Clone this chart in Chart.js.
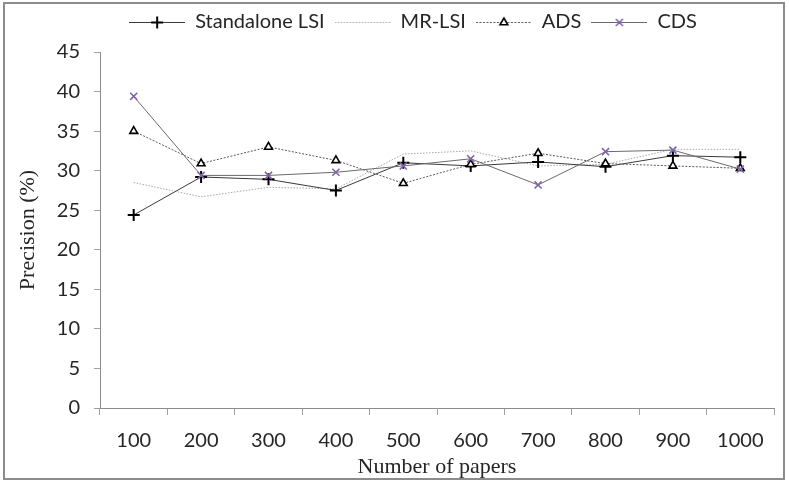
<!DOCTYPE html>
<html>
<head>
<meta charset="utf-8">
<script src="https://cdn.jsdelivr.net/npm/chart.js@4.4.1/dist/chart.umd.min.js"></script>
<style>
    html, body { margin: 0; padding: 0; background: #fff; }
    #box { width: 789px; height: 483px; }
</style>
</head>
<body>
<div id="box"><canvas id="precisao"></canvas></div>
<script>
const papers = ['100', '200', '300', '400', '500', '600', '700', '800', '900', '1000'];
const standalone_lsi = [24.4, 29.2, 28.9, 27.5, 31.0, 30.6, 31.1, 30.5, 31.9, 31.7];
const mr_lsi = [28.5, 26.7, 27.9, 27.7, 32.1, 32.5, 30.6, 30.8, 32.7, 32.7];
const ads = [35.0, 30.9, 33.0, 31.3, 28.4, 30.8, 32.2, 30.9, 30.6, 30.3];
const cds = [39.4, 29.4, 29.4, 29.8, 30.6, 31.5, 28.2, 32.4, 32.6, 30.2];
const y_min = 0, y_max = 45, y_step = 5;

const sans = 'Lato, "Open Sans", sans-serif';
const serif = '"Liberation Serif", "Times New Roman", serif';

// small picture for the legend: line sample with the marker in the middle
function amostra(ds){
    var c = document.createElement('canvas');
    c.width = 56;
    c.height = 14;
    var g = c.getContext('2d');
    g.strokeStyle = ds.borderColor;
    g.lineWidth = ds.borderWidth;
    g.setLineDash(ds.borderDash || []);
    g.beginPath();
    g.moveTo(0, 7.5);
    g.lineTo(56, 7.5);
    g.stroke();
    g.setLineDash([]);
    if (ds.pointRadius > 0) {
        g.fillStyle = ds.pointBackgroundColor;
        g.strokeStyle = ds.pointBorderColor;
        g.lineWidth = ds.pointBorderWidth;
        Chart.helpers.drawPoint(g, {
            pointStyle: ds.pointStyle,
            radius: ds.pointRadius,
            borderWidth: ds.pointBorderWidth
        }, 28, 7.5);
    }
    return c;
}

// frame round the whole figure; legend moved a bit right and up
const moldura = {
    id: 'moldura',
    afterLayout(chart){
        var lg = chart.legend;
        if (lg) {
            lg.left += 26;
            lg.right += 26;
            lg.top -= 10;
            lg.bottom -= 10;
        }
    },
    afterDraw(chart){
        const g = chart.ctx;
        g.save();
        g.strokeStyle = '#8c8c8c';
        g.lineWidth = 2;
        g.strokeRect(4, 3, 780, 476);
        g.restore();
    }
};

const datasets = [{
    label: 'Standalone LSI',
    data: standalone_lsi,
    borderColor: '#3a3a3a',
    borderWidth: 1,
    pointStyle: 'cross',
    pointRadius: 6,
    pointBorderWidth: 2,
    pointBorderColor: '#000',
    pointBackgroundColor: '#000',
    order: 3
}, {
    label: 'MR-LSI',
    data: mr_lsi,
    borderColor: '#a8a8a8',
    borderWidth: 1,
    borderDash: [1.5, 1.5],
    pointRadius: 0,
    order: 4
}, {
    label: 'ADS',
    data: ads,
    borderColor: '#5a5a5a',
    borderWidth: 1,
    borderDash: [2, 1.5],
    pointStyle: 'triangle',
    pointRadius: 4.5,
    pointBorderWidth: 1.6,
    pointBorderColor: '#000',
    pointBackgroundColor: '#fff',
    order: 2
}, {
    label: 'CDS',
    data: cds,
    borderColor: '#6a6a6a',
    borderWidth: 1,
    pointStyle: 'crossRot',
    pointRadius: 5,
    pointBorderWidth: 1.6,
    pointBorderColor: '#7f63a8',
    pointBackgroundColor: '#7f63a8',
    order: 1
}];

const ctx = document.getElementById('precisao').getContext('2d');
const myChart = new Chart(ctx, {
    type: 'line',
    data: {
        labels: papers,
        datasets: datasets
    },
    options: {
        responsive: true,
        maintainAspectRatio: false,
        animation: false,
        layout: {
            padding: { top: 12, right: 15, bottom: 0, left: 0 }
        },
        elements: {
            line: { tension: 0, fill: false }
        },
        plugins: {
            tooltip: { enabled: false },
            legend: {
                position: 'top',
                labels: {
                    usePointStyle: true,
                    pointStyleWidth: 56,
                    padding: 10,
                    color: '#262626',
                    font: { family: sans, size: 20 },
                    generateLabels(chart){
                        return chart.data.datasets.map(function(ds, i){
                            return {
                                text: ds.label,
                                pointStyle: amostra(ds),
                                fontColor: '#262626',
                                datasetIndex: i,
                                hidden: false,
                                lineWidth: 0
                            };
                        });
                    }
                }
            }
        },
        scales: {
            x: {
                offset: true,
                grid: {
                    offset: true,
                    drawOnChartArea: false,
                    tickLength: 7,
                    color: '#a0a0a0'
                },
                border: { color: '#8c8c8c' },
                ticks: {
                    padding: 14,
                    color: '#262626',
                    maxRotation: 0,
                    font: { family: sans, size: 20 }
                },
                title: {
                    display: true,
                    text: 'Number of papers',
                    color: '#262626',
                    padding: { top: 0, bottom: 3 },
                    font: { family: serif, size: 22 }
                },
                afterFit(scale){ scale.height = 75; }
            },
            y: {
                min: y_min,
                max: y_max,
                grid: {
                    drawOnChartArea: false,
                    tickLength: 6,
                    color: '#a0a0a0'
                },
                border: { color: '#8c8c8c' },
                ticks: {
                    stepSize: y_step,
                    padding: 14,
                    color: '#262626',
                    font: { family: sans, size: 20 }
                },
                title: {
                    display: true,
                    text: 'Precision (%)',
                    color: '#262626',
                    padding: { top: 15, bottom: 0 },
                    font: { family: serif, size: 22 }
                },
                afterFit(scale){ scale.width = 100; }
            }
        }
    },
    plugins: [moldura]
});
</script>
</body>
</html>
